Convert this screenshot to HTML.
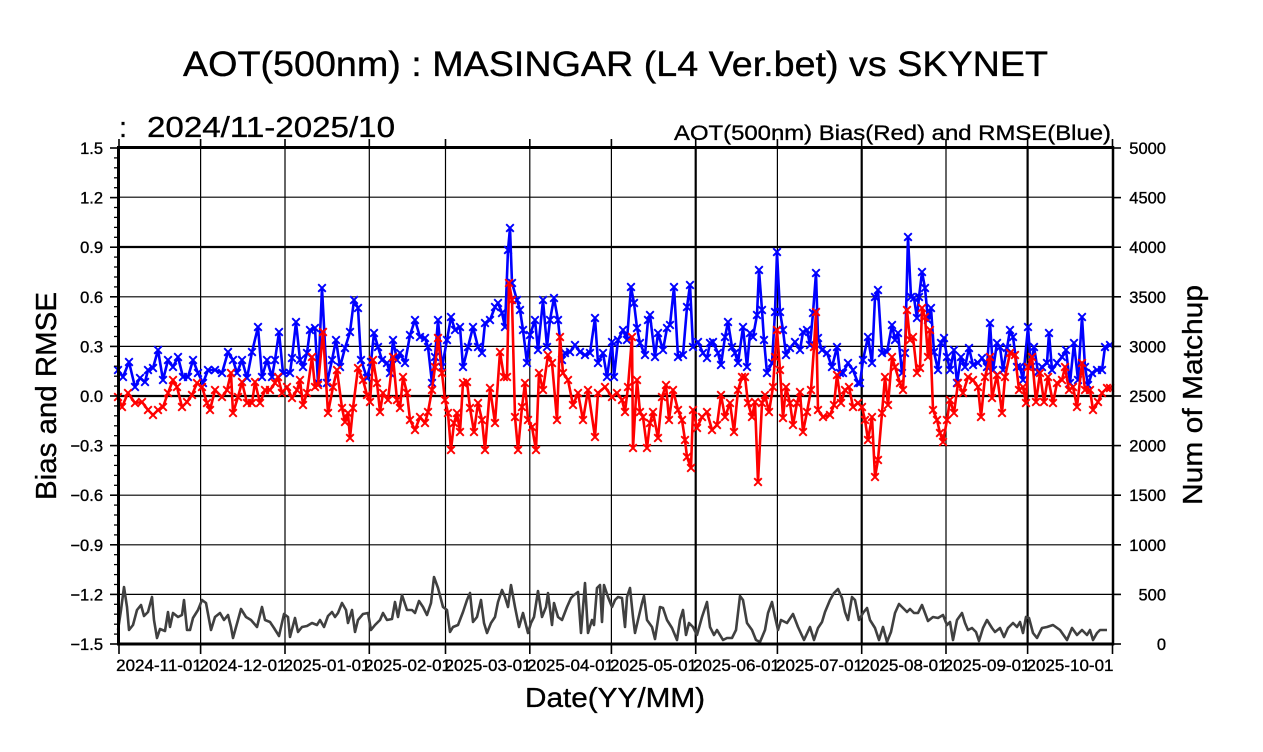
<!DOCTYPE html>
<html>
<head>
<meta charset="utf-8">
<style>
html,body{margin:0;padding:0;background:#fff;}
svg{display:block;}
text{font-family:"Liberation Sans","DejaVu Sans",sans-serif;fill:#000;stroke:#000;stroke-width:0.35;}
</style>
</head>
<body>
<svg width="1263" height="752" viewBox="0 0 1263 752" xmlns="http://www.w3.org/2000/svg">
<defs>
<marker id="mb" viewBox="-5 -5 10 10" refX="0" refY="0" markerWidth="10" markerHeight="10" markerUnits="userSpaceOnUse" orient="0">
<path d="M-3.8,-3.8L3.8,3.8M-3.8,3.8L3.8,-3.8" stroke="#0000ff" stroke-width="1.9" fill="none"/>
</marker>
<marker id="mr" viewBox="-5 -5 10 10" refX="0" refY="0" markerWidth="10" markerHeight="10" markerUnits="userSpaceOnUse" orient="0">
<path d="M-3.8,-3.8L3.8,3.8M-3.8,3.8L3.8,-3.8" stroke="#ff0000" stroke-width="1.9" fill="none"/>
</marker>
</defs>
<rect x="0" y="0" width="1263" height="752" fill="#fff"/>

<!-- Titles -->
<text x="183" y="76" font-size="35" textLength="865" lengthAdjust="spacingAndGlyphs">AOT(500nm) : MASINGAR (L4 Ver.bet) vs SKYNET</text>
<text x="119" y="137" font-size="29">:</text>
<text x="147" y="137" font-size="29" textLength="248" lengthAdjust="spacingAndGlyphs">2024/11-2025/10</text>
<text x="674" y="140" font-size="21" textLength="437" lengthAdjust="spacingAndGlyphs">AOT(500nm) Bias(Red) and RMSE(Blue)</text>

<!-- Horizontal gridlines -->
<g stroke="#000" stroke-width="1.2">
<line x1="119" y1="197.2" x2="1112" y2="197.2"/>
<line x1="119" y1="296.8" x2="1112" y2="296.8"/>
<line x1="119" y1="346.4" x2="1112" y2="346.4"/>
<line x1="119" y1="445.6" x2="1112" y2="445.6"/>
<line x1="119" y1="495.2" x2="1112" y2="495.2"/>
<line x1="119" y1="544.8" x2="1112" y2="544.8"/>
<line x1="119" y1="594.4" x2="1112" y2="594.4"/>
</g>
<g stroke="#000" stroke-width="2.2">
<line x1="119" y1="247" x2="1112" y2="247"/>
<line x1="119" y1="396" x2="1112" y2="396"/>
</g>
<!-- Vertical gridlines -->
<g stroke="#000" stroke-width="1.2">
<line x1="200.6" y1="148" x2="200.6" y2="644"/>
<line x1="285" y1="148" x2="285" y2="644"/>
<line x1="369.3" y1="148" x2="369.3" y2="644"/>
<line x1="445.5" y1="148" x2="445.5" y2="644"/>
<line x1="529.8" y1="148" x2="529.8" y2="644"/>
<line x1="611.4" y1="148" x2="611.4" y2="644"/>
<line x1="777.4" y1="148" x2="777.4" y2="644"/>
<line x1="946" y1="148" x2="946" y2="644"/>
</g>
<g stroke="#000" stroke-width="2.2">
<line x1="695.7" y1="148" x2="695.7" y2="644"/>
<line x1="861.7" y1="148" x2="861.7" y2="644"/>
<line x1="1027.6" y1="148" x2="1027.6" y2="644"/>
</g>

<!-- Num of matchup (gray) -->
<polyline fill="none" stroke="#404040" stroke-width="2.6" stroke-linejoin="round" points="118,630 121,610 124,587 127,607 129,630 133,625 137,610 141,605 144,616 148,612 152,597 154,620 157,638 160,629 165,631 168,612 170,627 173,613 178,617 182,615 184,600 187,630 190,630 193,618 198,610 202,600 206,603 211,630 215,617 220,613 224,620 228,615 231,627 233,638 238,620 241,609 246,617 251,620 257,627 262,607 265,620 270,622 274,628 279,636 284,614 288,617 290,637 295,618 298,632 302,627 307,626 312,623 317,625 320,620 324,627 328,616 332,612 335,617 338,613 342,603 346,610 348,623 352,610 355,632 358,620 363,614 368,613 371,630 375,625 380,620 383,613 387,620 392,619 395,602 398,617 402,595 407,610 412,610 415,613 419,601 423,607 427,615 431,603 434,577 438,588 443,607 447,610 450,632 453,627 458,625 463,612 467,600 470,593 473,622 477,617 481,600 484,623 487,633 491,623 495,617 498,602 502,590 505,597 508,607 511,585 515,607 519,627 523,613 528,633 531,623 534,617 538,591 542,617 546,607 548,593 552,625 554,603 558,617 562,620 567,607 571,598 574,595 578,592 581,633 585,583 588,633 592,620 594,625 597,588 600,585 602,622 604,585 608,597 612,607 615,600 618,597 622,598 625,627 627,597 630,588 633,617 635,633 638,620 642,603 644,596 647,620 652,627 655,639 660,607 663,608 667,620 672,628 677,640 680,620 683,610 686,635 689,623 693,627 697,635 702,617 707,602 710,627 714,635 717,630 723,640 727,638 732,638 736,630 740,596 743,600 747,623 752,630 756,640 760,642 765,630 768,613 772,602 775,617 778,630 781,620 787,623 793,614 798,627 804,640 810,627 814,640 818,628 822,622 825,612 830,600 834,593 838,589 842,598 845,612 848,620 852,597 855,600 859,620 863,613 867,608 870,620 875,628 879,640 883,627 887,642 891,632 895,613 899,604 903,608 907,612 910,609 914,613 918,613 922,605 925,613 928,621 933,617 938,618 943,615 947,625 950,622 953,640 957,620 962,613 965,623 968,630 972,628 976,632 979,641 983,628 987,620 992,628 995,632 1000,628 1004,637 1008,628 1013,623 1017,627 1020,622 1023,633 1026,617 1029,618 1033,633 1037,638 1042,628 1047,627 1053,625 1060,630 1067,640 1072,628 1077,635 1082,630 1087,635 1090,630 1093,640 1097,633 1100,630 1107,630"/>

<!-- RMSE (blue) -->
<polyline fill="none" stroke="#0000ff" stroke-width="2.6" stroke-linejoin="round" marker-start="url(#mb)" marker-mid="url(#mb)" marker-end="url(#mb)" points="118,370 123,377 129,362 135,387 140,378 145,382 148,370 153,368 158,350 163,380 168,360 173,367 178,357 183,377 188,377 193,360 198,373 203,383 208,370 215,370 222,373 228,352 233,360 237,373 242,360 247,378 252,352 258,327 262,377 267,360 272,377 275,360 279,332 283,373 290,373 292,358 296,322 300,360 303,367 307,353 310,330 315,328 318,383 322,288 327,383 332,360 336,340 340,367 345,348 350,332 354,300 358,308 361,360 367,378 371,362 374,333 378,347 382,360 387,363 390,373 393,340 397,360 400,353 405,363 410,335 415,320 420,337 425,338 428,347 432,383 435,357 438,320 442,367 447,340 451,317 455,330 460,327 463,367 468,347 473,327 478,347 482,353 485,323 490,320 495,307 498,303 502,313 505,327 508,250 510,228 512,283 517,300 520,310 523,330 527,363 530,335 535,320 538,350 543,300 547,347 550,320 554,298 558,320 562,360 565,353 570,352 575,345 580,352 585,355 590,353 595,318 598,363 603,353 607,377 612,342 614,377 618,340 623,330 627,340 631,287 634,303 637,328 640,343 645,355 648,320 650,315 655,357 658,333 663,350 667,328 670,325 674,287 678,357 683,355 687,307 690,285 693,347 698,342 703,353 707,358 710,343 713,342 718,353 721,365 725,337 728,322 732,347 735,353 738,363 743,327 747,367 750,333 753,337 757,315 759,270 762,310 764,340 767,373 772,363 775,312 777,252 780,312 783,330 786,355 790,348 795,342 800,350 803,332 807,330 810,345 813,313 816,273 818,338 822,350 827,353 832,367 837,347 840,373 843,373 848,363 853,370 858,383 860,383 863,360 868,337 872,363 875,297 878,290 882,353 887,352 892,325 895,340 898,333 902,373 905,353 908,237 911,297 914,298 917,318 919,297 922,272 925,288 928,320 931,308 934,352 938,370 941,343 944,338 947,357 950,370 954,350 957,383 961,357 965,367 969,348 973,365 978,363 982,358 987,367 990,323 993,370 997,343 1000,347 1003,370 1007,348 1010,330 1013,337 1017,367 1020,367 1023,380 1028,327 1031,367 1034,347 1038,372 1042,367 1047,363 1049,333 1052,370 1057,363 1062,357 1066,350 1070,383 1074,343 1078,380 1082,317 1085,367 1088,385 1092,373 1097,370 1102,370 1105,347 1110,345"/>

<!-- Bias (red) -->
<polyline fill="none" stroke="#ff0000" stroke-width="2.6" stroke-linejoin="round" marker-start="url(#mr)" marker-mid="url(#mr)" marker-end="url(#mr)" points="118,397 122,407 128,393 135,403 142,402 148,410 153,415 158,410 163,407 168,393 173,380 177,387 182,407 187,402 192,395 197,383 202,387 207,403 210,410 215,390 222,397 227,390 231,373 233,413 238,397 242,382 247,403 252,403 255,382 260,403 265,390 270,390 275,383 278,377 282,393 287,387 292,398 297,390 300,380 303,405 307,393 312,357 315,387 318,385 323,332 328,413 333,387 337,370 342,408 345,422 348,413 350,438 353,408 358,368 363,380 367,395 370,402 373,360 377,383 380,412 383,393 388,400 393,357 397,400 400,408 403,377 407,393 410,420 415,430 420,417 425,423 428,412 432,390 435,367 438,338 442,373 445,400 448,413 451,450 454,423 457,413 460,432 463,383 467,382 470,408 474,432 478,403 482,420 485,450 490,388 495,423 500,352 504,377 507,377 509,283 512,300 515,417 518,450 522,407 525,383 528,420 532,427 536,450 539,373 543,390 548,355 552,363 557,420 560,337 563,373 568,380 573,405 578,393 583,420 588,390 595,437 598,393 605,387 612,397 617,393 622,400 625,412 628,387 632,337 633,448 637,380 640,412 643,417 647,448 650,423 653,412 658,438 662,397 666,385 669,420 673,390 678,410 682,420 685,440 687,457 691,468 693,410 697,428 702,417 707,412 712,430 717,425 721,395 725,417 730,403 734,432 738,390 742,377 745,377 748,403 752,417 755,402 758,482 762,403 765,395 769,412 773,387 775,357 777,330 780,370 783,418 786,387 790,403 793,425 797,403 800,392 803,432 807,412 811,390 814,347 816,312 818,410 823,417 830,415 834,405 837,375 841,403 845,390 849,387 853,407 858,403 862,407 865,420 868,440 872,417 875,477 878,460 882,413 885,377 888,405 892,357 895,367 900,383 903,390 907,310 910,340 913,337 917,373 920,368 922,308 925,317 928,357 930,330 933,410 937,420 940,433 943,442 947,420 950,400 954,413 958,383 963,393 968,377 973,380 978,387 981,417 985,377 990,357 992,398 997,375 1002,413 1005,377 1010,353 1015,355 1019,390 1023,387 1026,403 1028,367 1032,357 1036,402 1040,373 1044,402 1048,377 1053,403 1057,383 1062,380 1065,367 1069,390 1073,387 1077,407 1082,363 1085,390 1090,390 1093,410 1098,402 1102,393 1107,388 1110,388"/>

<!-- Frame -->
<g stroke="#000" fill="none">
<line x1="117" y1="147.5" x2="1114" y2="147.5" stroke-width="3"/>
<line x1="117" y1="644" x2="1114" y2="644" stroke-width="3"/>
<line x1="118.5" y1="146" x2="118.5" y2="645.5" stroke-width="3"/>
<line x1="1113" y1="146" x2="1113" y2="645.5" stroke-width="2.5"/>
</g>

<!-- Left major ticks -->
<g stroke="#000" stroke-width="1.6">
<line x1="110" y1="148" x2="119" y2="148"/>
<line x1="110" y1="197.6" x2="119" y2="197.6"/>
<line x1="110" y1="247.2" x2="119" y2="247.2"/>
<line x1="110" y1="296.8" x2="119" y2="296.8"/>
<line x1="110" y1="346.4" x2="119" y2="346.4"/>
<line x1="110" y1="396" x2="119" y2="396"/>
<line x1="110" y1="445.6" x2="119" y2="445.6"/>
<line x1="110" y1="495.2" x2="119" y2="495.2"/>
<line x1="110" y1="544.8" x2="119" y2="544.8"/>
<line x1="110" y1="594.4" x2="119" y2="594.4"/>
<line x1="110" y1="644" x2="119" y2="644"/>
</g>
<!-- Left minor ticks -->
<g stroke="#000" stroke-width="1.3">
<line x1="114" y1="157.9" x2="119" y2="157.9"/><line x1="114" y1="167.8" x2="119" y2="167.8"/><line x1="114" y1="177.8" x2="119" y2="177.8"/><line x1="114" y1="187.7" x2="119" y2="187.7"/>
<line x1="114" y1="207.5" x2="119" y2="207.5"/><line x1="114" y1="217.4" x2="119" y2="217.4"/><line x1="114" y1="227.4" x2="119" y2="227.4"/><line x1="114" y1="237.3" x2="119" y2="237.3"/>
<line x1="114" y1="257.1" x2="119" y2="257.1"/><line x1="114" y1="267" x2="119" y2="267"/><line x1="114" y1="277" x2="119" y2="277"/><line x1="114" y1="286.9" x2="119" y2="286.9"/>
<line x1="114" y1="306.7" x2="119" y2="306.7"/><line x1="114" y1="316.6" x2="119" y2="316.6"/><line x1="114" y1="326.6" x2="119" y2="326.6"/><line x1="114" y1="336.5" x2="119" y2="336.5"/>
<line x1="114" y1="356.3" x2="119" y2="356.3"/><line x1="114" y1="366.2" x2="119" y2="366.2"/><line x1="114" y1="376.2" x2="119" y2="376.2"/><line x1="114" y1="386.1" x2="119" y2="386.1"/>
<line x1="114" y1="405.9" x2="119" y2="405.9"/><line x1="114" y1="415.8" x2="119" y2="415.8"/><line x1="114" y1="425.8" x2="119" y2="425.8"/><line x1="114" y1="435.7" x2="119" y2="435.7"/>
<line x1="114" y1="455.5" x2="119" y2="455.5"/><line x1="114" y1="465.4" x2="119" y2="465.4"/><line x1="114" y1="475.4" x2="119" y2="475.4"/><line x1="114" y1="485.3" x2="119" y2="485.3"/>
<line x1="114" y1="505.1" x2="119" y2="505.1"/><line x1="114" y1="515" x2="119" y2="515"/><line x1="114" y1="525" x2="119" y2="525"/><line x1="114" y1="534.9" x2="119" y2="534.9"/>
<line x1="114" y1="554.7" x2="119" y2="554.7"/><line x1="114" y1="564.6" x2="119" y2="564.6"/><line x1="114" y1="574.6" x2="119" y2="574.6"/><line x1="114" y1="584.5" x2="119" y2="584.5"/>
<line x1="114" y1="604.3" x2="119" y2="604.3"/><line x1="114" y1="614.2" x2="119" y2="614.2"/><line x1="114" y1="624.2" x2="119" y2="624.2"/><line x1="114" y1="634.1" x2="119" y2="634.1"/>
</g>
<!-- Right ticks -->
<g stroke="#000" stroke-width="1.6">
<line x1="1112" y1="148" x2="1121" y2="148"/>
<line x1="1112" y1="197.6" x2="1121" y2="197.6"/>
<line x1="1112" y1="247.2" x2="1121" y2="247.2"/>
<line x1="1112" y1="296.8" x2="1121" y2="296.8"/>
<line x1="1112" y1="346.4" x2="1121" y2="346.4"/>
<line x1="1112" y1="396" x2="1121" y2="396"/>
<line x1="1112" y1="445.6" x2="1121" y2="445.6"/>
<line x1="1112" y1="495.2" x2="1121" y2="495.2"/>
<line x1="1112" y1="544.8" x2="1121" y2="544.8"/>
<line x1="1112" y1="594.4" x2="1121" y2="594.4"/>
<line x1="1112" y1="644" x2="1121" y2="644"/>
</g>
<!-- Top & bottom ticks -->
<g stroke="#000" stroke-width="1.6">
<line x1="200.6" y1="139" x2="200.6" y2="148"/><line x1="285" y1="139" x2="285" y2="148"/><line x1="369.3" y1="139" x2="369.3" y2="148"/><line x1="445.5" y1="139" x2="445.5" y2="148"/><line x1="529.8" y1="139" x2="529.8" y2="148"/><line x1="611.4" y1="139" x2="611.4" y2="148"/><line x1="695.7" y1="139" x2="695.7" y2="148"/><line x1="777.4" y1="139" x2="777.4" y2="148"/><line x1="861.7" y1="139" x2="861.7" y2="148"/><line x1="946" y1="139" x2="946" y2="148"/><line x1="1027.6" y1="139" x2="1027.6" y2="148"/><line x1="1112.5" y1="139" x2="1112.5" y2="148"/><line x1="119" y1="139" x2="119" y2="148"/>
<line x1="119" y1="644" x2="119" y2="654"/><line x1="200.6" y1="644" x2="200.6" y2="654"/><line x1="285" y1="644" x2="285" y2="654"/><line x1="369.3" y1="644" x2="369.3" y2="654"/><line x1="445.5" y1="644" x2="445.5" y2="654"/><line x1="529.8" y1="644" x2="529.8" y2="654"/><line x1="611.4" y1="644" x2="611.4" y2="654"/><line x1="695.7" y1="644" x2="695.7" y2="654"/><line x1="777.4" y1="644" x2="777.4" y2="654"/><line x1="861.7" y1="644" x2="861.7" y2="654"/><line x1="946" y1="644" x2="946" y2="654"/><line x1="1027.6" y1="644" x2="1027.6" y2="654"/><line x1="1112.5" y1="644" x2="1112.5" y2="654"/>
</g>

<!-- Left tick labels -->
<g font-size="16.5" text-anchor="end">
<text x="103" y="154">1.5</text>
<text x="103" y="203.6">1.2</text>
<text x="103" y="253.2">0.9</text>
<text x="103" y="302.8">0.6</text>
<text x="103" y="352.4">0.3</text>
<text x="103" y="402">0.0</text>
<text x="103" y="451.6">−0.3</text>
<text x="103" y="501.2">−0.6</text>
<text x="103" y="550.8">−0.9</text>
<text x="103" y="600.4">−1.2</text>
<text x="103" y="650">−1.5</text>
</g>
<!-- Right tick labels -->
<g font-size="16.5" text-anchor="end">
<text x="1166" y="154">5000</text>
<text x="1166" y="203.6">4500</text>
<text x="1166" y="253.2">4000</text>
<text x="1166" y="302.8">3500</text>
<text x="1166" y="352.4">3000</text>
<text x="1166" y="402">2500</text>
<text x="1166" y="451.6">2000</text>
<text x="1166" y="501.2">1500</text>
<text x="1166" y="550.8">1000</text>
<text x="1166" y="600.4">500</text>
<text x="1166" y="650">0</text>
</g>
<!-- Bottom date labels -->
<g font-size="17" text-anchor="middle">
<text x="159" y="671">2024-11-01</text>
<text x="243" y="671">2024-12-01</text>
<text x="327" y="671">2025-01-01</text>
<text x="407.5" y="671">2025-02-01</text>
<text x="488" y="671">2025-03-01</text>
<text x="570.5" y="671">2025-04-01</text>
<text x="653.5" y="671">2025-05-01</text>
<text x="736.5" y="671">2025-06-01</text>
<text x="819.5" y="671">2025-07-01</text>
<text x="904" y="671">2025-08-01</text>
<text x="987" y="671">2025-09-01</text>
<text x="1070" y="671">2025-10-01</text>
</g>

<!-- Axis titles -->
<text x="525" y="707" font-size="28" textLength="180" lengthAdjust="spacingAndGlyphs">Date(YY/MM)</text>
<text transform="translate(56,500) rotate(-90)" font-size="29" textLength="208" lengthAdjust="spacingAndGlyphs">Bias and RMSE</text>
<text transform="translate(1202,505) rotate(-90)" font-size="28" textLength="220" lengthAdjust="spacingAndGlyphs">Num of Matchup</text>
</svg>
</body>
</html>
